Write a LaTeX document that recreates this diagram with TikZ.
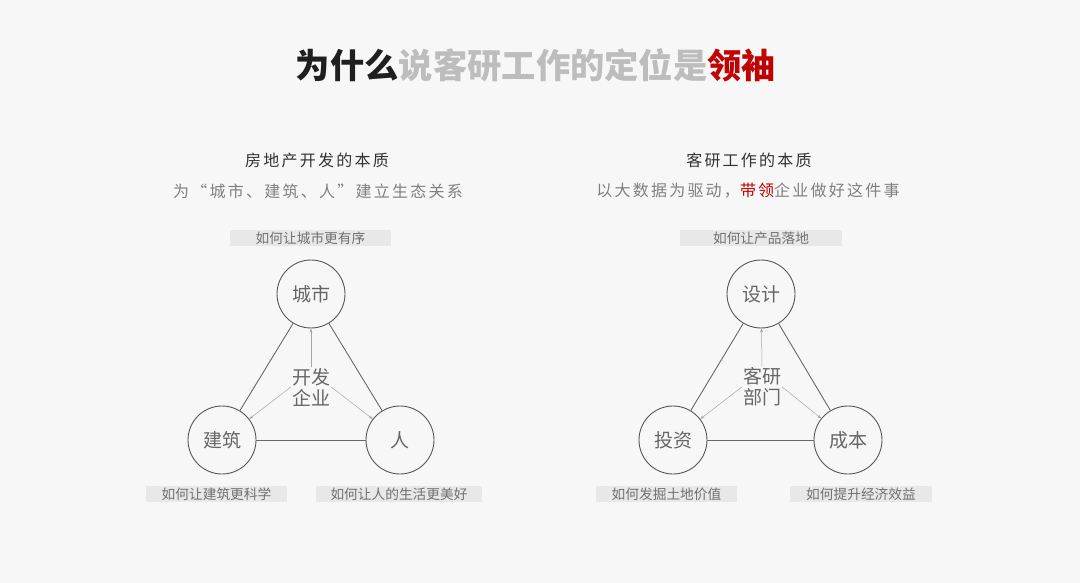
\documentclass[tikz,border=0pt]{standalone}
\usepackage{fontspec}
\setmainfont{Noto Sans CJK SC}
\newfontfamily\cjk{Noto Sans CJK SC}
\newfontfamily\cjksp{Noto Sans CJK SC}[LetterSpace=14]
\usetikzlibrary{arrows.meta}
\definecolor{bg}{HTML}{F7F7F7}
\definecolor{titlegray}{HTML}{BDBDBD}
\definecolor{titlered}{HTML}{C00000}
\definecolor{boxfill}{HTML}{E8E8E8}
\definecolor{ringcol}{HTML}{585858}
\definecolor{nodetext}{HTML}{666666}
\definecolor{labeltext}{HTML}{707070}
\begin{document}
\begin{tikzpicture}[x=1pt,y=-1pt,
  ring/.style={circle,draw=ringcol,line width=0.9pt,minimum size=68pt,inner sep=0pt,
    font=\cjk\fontsize{19}{21}\selectfont,text=nodetext},
  hub/.style={align=center,font=\cjk\fontsize{19}{21}\selectfont,text=nodetext,inner sep=1pt},
  tag/.style={fill=boxfill,minimum height=16pt,inner sep=0pt,
    font=\cjk\fontsize{13.7}{15}\selectfont,text=labeltext},
  edge/.style={draw=ringcol!90,line width=0.9pt},
  spoke/.style={draw=gray!70,line width=0.5pt,-{Stealth[length=4pt,width=3pt]}},
  head/.style={font=\cjksp\fontsize{16}{18}\selectfont,text=black!80},
  sub/.style={font=\cjksp\fontsize{16}{18}\selectfont,text=black!50}]
\fill[bg] (0,0) rectangle (1080,583);
\useasboundingbox (0,0) rectangle (1080,583);
% title
\node[font=\cjk\bfseries\fontsize{34.3}{38}\selectfont,inner sep=0pt] (title) at (536,65)
  {\textcolor{black!88}{为什么}\textcolor{titlegray}{说客研工作的定位是}\textcolor{titlered}{领袖}};
% left headings
\node[head] (lh1) at (317,160) {房地产开发的本质};
\node[sub] (lh2) at (318,191) {为“城市、建筑、人”建立生态关系};
% right headings
\node[head] (rh1) at (749,160) {客研工作的本质};
\node[sub] (rh2) at (748,191) {以大数据为驱动，\textcolor{titlered}{带领}企业做好这件事};
% left diagram
\node[ring] (city) at (311,294) {城市};
\node[ring] (bld) at (222,440) {建筑};
\node[ring] (ppl) at (400,440) {人};
\node[hub] (dev) at (311,387) {开发\\企业};
\draw[edge] (city) -- (bld);
\draw[edge] (city) -- (ppl);
\draw[edge] (bld) -- (ppl);
\draw[spoke] (dev.north) -- (city);
\draw[spoke] (dev.west) -- (bld);
\draw[spoke] (dev.east) -- (ppl);
\node[tag,minimum width=161pt] (t1) at (310.5,238) {如何让城市更有序};
\node[tag,minimum width=141pt] (t2) at (216.5,494) {如何让建筑更科学};
\node[tag,minimum width=166pt] (t3) at (399,494) {如何让人的生活更美好};
% right diagram
\node[ring] (des) at (761,294) {设计};
\node[ring] (inv) at (673,440) {投资};
\node[ring] (cost) at (848,440) {成本};
\node[hub] (res) at (762,387) {客研\\部门};
\draw[edge] (des) -- (inv);
\draw[edge] (des) -- (cost);
\draw[edge] (inv) -- (cost);
\draw[spoke] (res.north) -- (des);
\draw[spoke] (res.west) -- (inv);
\draw[spoke] (res.east) -- (cost);
\node[tag,minimum width=162pt] (t4) at (761,238) {如何让产品落地};
\node[tag,minimum width=141pt] (t5) at (666.5,494) {如何发掘土地价值};
\node[tag,minimum width=142pt] (t6) at (861,494) {如何提升经济效益};
\end{tikzpicture}
\end{document}
